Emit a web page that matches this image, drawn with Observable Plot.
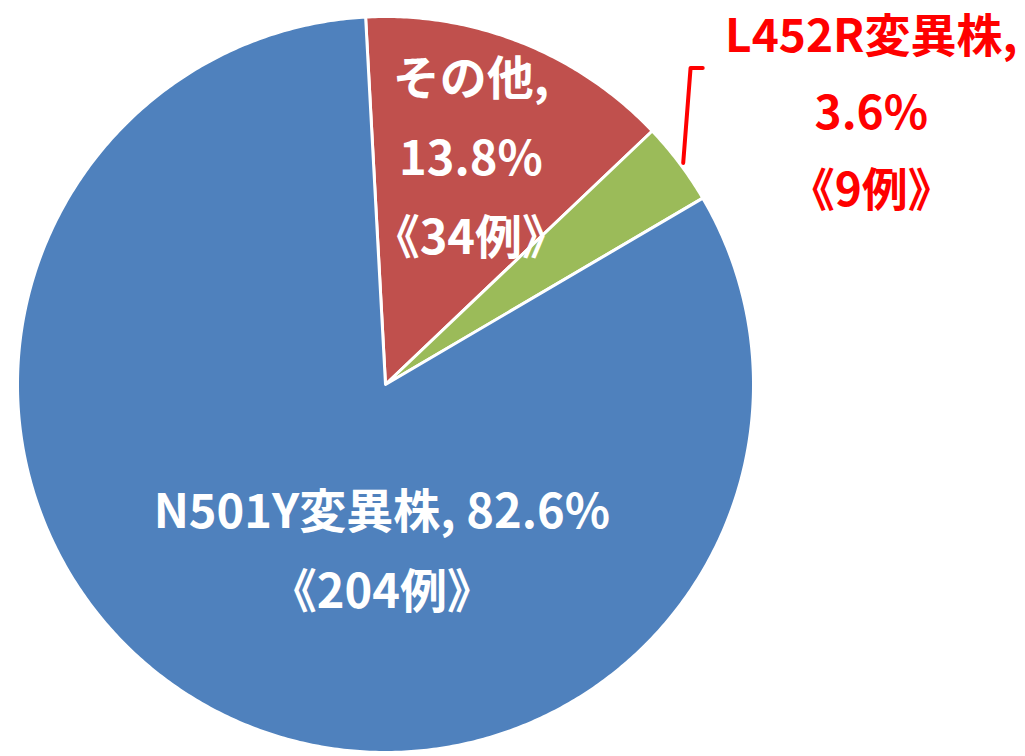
<!DOCTYPE html>
<html>
<head>
<meta charset="utf-8">
<script src="https://cdn.jsdelivr.net/npm/d3@7"></script>
<script src="https://cdn.jsdelivr.net/npm/@observablehq/plot@0.6"></script>
<style>
  html, body { margin: 0; padding: 0; background: #fff; }
  #chart svg { display: block; }
</style>
</head>
<body>
<div id="chart"></div>
<script>
// Data
const names = ["その他", "L452R変異株", "N501Y変異株"];
const counts = [34, 9, 204];
const percents = [13.8, 3.6, 82.6];
const colors = ["#C0504D", "#9BBB59", "#4F81BD"];

// Layout (unit-radius coordinates relative to pie centre, not data)
const labelAt = [[0.232, 0.64], [1.32, 0.762], [-0.01, -0.43]];
const W = 1025, H = 756, CX = 385, CY = 384, R = 368;
const startDeg = -3.1;

const rows = names.map((n, i) => ({name: n, count: counts[i], pct: percents[i], color: colors[i], i}));

const pie = d3.pie().sort(null).value(d => d.count)
  .startAngle(startDeg * Math.PI / 180)
  .endAngle((startDeg + 360) * Math.PI / 180);
const arcs = pie(rows);

function slicePolygon(a) {
  const pts = [[0, 0]];
  const n = Math.max(2, Math.ceil((a.endAngle - a.startAngle) / (Math.PI / 360)));
  for (let k = 0; k <= n; k++) {
    const t = a.startAngle + (a.endAngle - a.startAngle) * k / n;
    pts.push([Math.sin(t), Math.cos(t)]);
  }
  pts.push([0, 0]);
  return {type: "Feature", properties: {name: a.data.name}, geometry: {type: "Polygon", coordinates: [pts]}};
}
const slices = arcs.map(slicePolygon);

function labelText(d) {
  if (d.name === "N501Y変異株") return `${d.name}, ${d.pct}%\n《${d.count}例》`;
  return `${d.name},\n${d.pct}%\n《${d.count}例》`;
}
const labels = rows.map((d, i) => ({text: labelText(d), x: labelAt[i][0], y: labelAt[i][1], i}));

// leader line for the small slice
const leader = {type: "Feature", geometry: {type: "LineString", coordinates: [[0.862, 0.86], [0.829, 0.86], [0.809, 0.602]]}};

const projection = d3.geoIdentity().reflectY(true).scale(R).translate([CX, CY]);

const chart = Plot.plot({
  width: W,
  height: H,
  margin: 0,
  projection,
  color: {domain: names, range: colors},
  marks: [
    Plot.geo(slices, {fill: d => d.properties.name, stroke: "white", strokeWidth: 3, strokeLinejoin: "round"}),
    Plot.geo([leader], {stroke: "#FF0000", strokeWidth: 4, fill: "none"}),
    Plot.text(labels.filter(d => d.i !== 1), {
      x: "x", y: "y", text: "text", fill: "white",
      fontSize: 47, fontWeight: 700, lineHeight: 1.7,
      fontFamily: "'Noto Sans CJK JP', 'Noto Sans', sans-serif"
    }),
    Plot.text(labels.filter(d => d.i === 1), {
      x: "x", y: "y", text: "text", fill: "#FF0000",
      fontSize: 46, fontWeight: 700, lineHeight: 1.68,
      fontFamily: "'Noto Sans CJK JP', 'Noto Sans', sans-serif"
    })
  ]
});
document.getElementById("chart").appendChild(chart);
</script>
</body>
</html>
